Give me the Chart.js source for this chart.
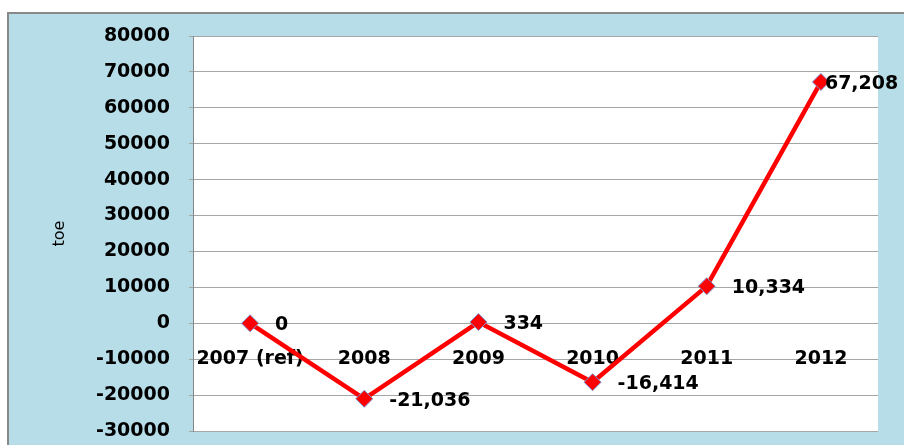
<!DOCTYPE html>
<html>
<head>
<meta charset="utf-8">
<script src="https://cdn.jsdelivr.net/npm/chart.js@4/dist/chart.umd.min.js"></script>
<style>
  html, body { margin: 0; padding: 0; background: #fff; }
  #wrap { width: 904px; height: 445px; }
</style>
</head>
<body>
<div id="wrap"><canvas id="chart" width="904" height="445"></canvas></div>
<script>
const years = ['2007 (ref)', '2008', '2009', '2010', '2011', '2012']
const toeValues = [0, -21036, 334, -16414, 10334, 67208]
const valueLabels = ['0', '-21,036', '334', '-16,414', '10,334', '67,208']
const yMin = -30000
const yMax = 80000
const yStep = 10000

const labelFont = 'bold 19px "DejaVu Sans"'

// blue panel behind the chart + white plot area
const panelPlugin = {
  id: 'panel',
  beforeDraw (chart) {
    const { ctx, width, height, chartArea } = chart
    ctx.save()
    ctx.fillStyle = '#ffffff'
    ctx.fillRect(0, 0, width, height)
    ctx.fillStyle = '#b7dde8'
    ctx.fillRect(7, 12, width - 7, height - 12)
    ctx.fillStyle = '#898989'
    ctx.fillRect(7, 12, width - 7, 2)
    ctx.fillRect(7, 12, 2, height - 12)
    ctx.fillStyle = '#ffffff'
    ctx.fillRect(chartArea.left, chartArea.top, chartArea.right - chartArea.left, chartArea.bottom - chartArea.top)
    ctx.restore()
  }
}

// value labels to the right of each point
const valueLabelPlugin = {
  id: 'valueLabels',
  afterDatasetsDraw (chart) {
    const { ctx } = chart
    const meta = chart.getDatasetMeta(0)
    ctx.save()
    ctx.font = labelFont
    ctx.fillStyle = '#000000'
    ctx.textAlign = 'left'
    ctx.textBaseline = 'middle'
    meta.data.forEach((pt, i) => {
      const dx = i === meta.data.length - 1 ? 4 : 25
      ctx.fillText(valueLabels[i], pt.x + dx, pt.y + 2)
    })
    ctx.restore()
  }
}

const config = {
  type: 'line',
  data: {
    labels: years,
    datasets: [
      {
        label: 'toe',
        data: toeValues,
        borderColor: '#ff0000',
        borderWidth: 4.5,
        tension: 0,
        pointStyle: 'rectRot',
        pointRadius: 8.5,
        pointHoverRadius: 8.5,
        pointBackgroundColor: '#ff0000',
        pointBorderColor: '#7b93d0',
        pointBorderWidth: 1
      }
    ]
  },
  options: {
    responsive: false,
    animation: false,
    layout: {
      padding: { left: 0, right: 26, top: 36, bottom: 14 }
    },
    plugins: {
      legend: { display: false },
      tooltip: { enabled: false },
      title: { display: false }
    },
    scales: {
      x: {
        position: { y: 0 },
        offset: true,
        afterFit (scale) { scale.height = 0 },
        grid: { display: false, drawTicks: false },
        border: { display: false },
        ticks: {
          color: '#000000',
          padding: 24,
          maxRotation: 0,
          autoSkip: false,
          font: { family: 'DejaVu Sans', size: 19, weight: 'bold' }
        }
      },
      y: {
        min: yMin,
        max: yMax,
        afterFit (scale) {
          scale.width = 193
          scale.paddingTop = 0
          scale.paddingBottom = 0
        },
        title: {
          display: true,
          text: 'toe',
          color: '#000000',
          padding: { top: 50, bottom: 0 },
          font: { family: 'DejaVu Sans', size: 16 }
        },
        grid: {
          color: '#a6a6a6',
          lineWidth: 1,
          drawTicks: true,
          tickLength: 4
        },
        border: { display: true, color: '#868686', width: 1 },
        ticks: {
          stepSize: yStep,
          color: '#000000',
          padding: 19,
          font: { family: 'DejaVu Sans', size: 19, weight: 'bold' },
          callback: v => String(v)
        }
      }
    }
  },
  plugins: [panelPlugin, valueLabelPlugin]
}

new Chart(document.getElementById('chart').getContext('2d'), config)
</script>
</body>
</html>
